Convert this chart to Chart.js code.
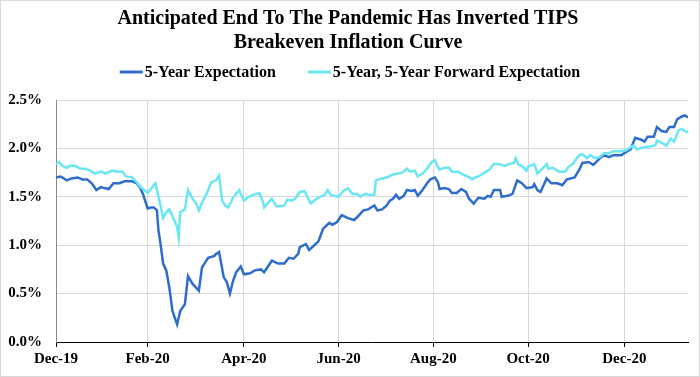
<!DOCTYPE html>
<html>
<head>
<meta charset="utf-8">
<script src="https://cdn.jsdelivr.net/npm/chart.js@4"></script>
<style>
  html, body { margin: 0; padding: 0; background: #fff; }
  #wrap { width: 700px; height: 377px; box-sizing: border-box; border: 1px solid #d9d9d9; }
  canvas { display: block; }
</style>
</head>
<body>
<div id="wrap"><canvas id="chart" width="698" height="375"></canvas></div>
<script>
// days counted from the start of the axis (early Dec 2019)
const tickDays = [0, 59, 121, 182, 243, 304, 366];
const tickLabels = ['Dec-19', 'Feb-20', 'Apr-20', 'Jun-20', 'Aug-20', 'Oct-20', 'Dec-20'];

const fiveYearDays = [0,3,7,10,14,17,20,23,26,29,31,34,37,41,44,49,52,54,56,59,
  61,63,65,66,67,69,71,73,75,78,80,83,85,88,92,94,96,98,102,103,
  105,108,110,112,114,116,119,121,125,128,132,134,139,143,147,150,153,156,157,161,
  163,167,169,172,176,178,181,184,188,192,194,198,201,205,207,210,213,215,217,219,
  221,224,226,229,231,233,236,239,241,244,246,247,250,253,255,258,261,264,266,269,
  272,276,278,280,282,286,287,291,294,297,300,303,307,308,310,312,316,319,323,326,
  329,334,337,339,343,346,348,351,353,356,359,364,367,370,373,377,379,381,385,387,
  390,393,395,398,400,403,405,407];
const fiveYear = [1.70,1.71,1.67,1.69,1.70,1.68,1.68,1.64,1.57,1.60,
  1.59,1.58,1.64,1.64,1.66,1.66,1.64,1.60,1.53,1.38,
  1.39,1.39,1.36,1.15,1.05,0.81,0.74,0.56,0.32,0.18,
  0.32,0.39,0.68,0.60,0.53,0.77,0.82,0.87,0.89,0.91,
  0.93,0.67,0.62,0.50,0.63,0.72,0.78,0.70,0.71,0.74,
  0.75,0.72,0.84,0.81,0.81,0.87,0.86,0.91,0.98,1.01,
  0.95,1.01,1.04,1.17,1.23,1.21,1.24,1.31,1.28,1.26,
  1.29,1.36,1.37,1.41,1.36,1.37,1.41,1.46,1.48,1.52,
  1.48,1.51,1.57,1.56,1.57,1.51,1.57,1.64,1.68,1.70,
  1.65,1.58,1.59,1.58,1.54,1.54,1.58,1.55,1.48,1.43,
  1.49,1.48,1.51,1.50,1.57,1.57,1.50,1.51,1.53,1.67,
  1.64,1.59,1.60,1.63,1.57,1.55,1.69,1.64,1.64,1.62,
  1.68,1.70,1.78,1.85,1.86,1.83,1.86,1.91,1.93,1.91,
  1.93,1.93,1.96,1.99,2.11,2.09,2.07,2.12,2.12,2.22,
  2.18,2.17,2.22,2.22,2.30,2.33,2.34,2.32];

const forwardDays = [0,2,4,7,9,12,16,19,22,25,29,32,36,40,43,45,49,52,55,56,
  59,61,64,67,69,71,73,75,78,79,80,83,85,88,90,92,94,97,100,103,
  105,107,109,111,114,116,118,121,124,127,131,133,134,139,142,147,149,152,154,157,
  160,164,167,170,173,175,177,182,185,188,191,194,196,199,203,205,206,210,213,217,
  220,223,226,228,231,233,236,239,242,244,245,247,250,253,255,259,262,265,268,270,
  272,276,279,282,285,289,292,295,296,298,300,303,304,308,310,312,316,317,320,324,
  328,330,333,334,337,339,342,344,347,350,353,356,359,364,367,370,372,374,378,382,
  386,387,390,393,396,398,401,403,406,407];
const forward = [1.84,1.86,1.82,1.80,1.82,1.82,1.79,1.79,1.77,1.74,
  1.76,1.74,1.77,1.76,1.76,1.71,1.70,1.65,1.59,1.58,
  1.54,1.58,1.64,1.43,1.28,1.34,1.37,1.30,1.19,1.08,
  1.34,1.37,1.57,1.48,1.44,1.36,1.44,1.53,1.65,1.67,
  1.72,1.46,1.41,1.39,1.49,1.53,1.57,1.46,1.50,1.52,
  1.54,1.46,1.39,1.48,1.40,1.41,1.47,1.46,1.48,1.55,
  1.56,1.43,1.47,1.50,1.52,1.57,1.52,1.50,1.56,1.59,
  1.53,1.53,1.50,1.53,1.52,1.52,1.67,1.69,1.70,1.73,
  1.74,1.75,1.79,1.76,1.77,1.71,1.74,1.79,1.86,1.88,
  1.84,1.78,1.80,1.80,1.76,1.76,1.73,1.71,1.68,1.70,
  1.71,1.75,1.78,1.84,1.84,1.82,1.84,1.85,1.90,1.83,
  1.82,1.77,1.81,1.84,1.74,1.77,1.84,1.79,1.80,1.76,
  1.76,1.81,1.84,1.87,1.93,1.94,1.90,1.93,1.90,1.91,
  1.95,1.95,1.97,1.97,1.98,2.01,2.03,1.99,2.01,2.02,
  2.03,2.08,2.06,2.03,2.10,2.07,2.19,2.20,2.17,2.18];

const serif = '"Liberation Serif", "DejaVu Serif", serif';

// legend drawn as short line + label, like the original
const lineLegend = {
  id: 'lineLegend',
  afterDraw(chart) {
    const ctx = chart.ctx;
    const y = 71;
    const lineLen = 23, gap = 2, itemGap = 32;
    ctx.save();
    ctx.font = 'bold 16px ' + serif;
    const items = chart.data.datasets.map(ds => ({
      text: ds.label, color: ds.borderColor, w: ctx.measureText(ds.label).width
    }));
    const total = items.reduce((s, it) => s + lineLen + gap + it.w, 0) + itemGap * (items.length - 1);
    let x = (chart.width - total) / 2;
    items.forEach(it => {
      ctx.strokeStyle = it.color;
      ctx.lineWidth = 3;
      ctx.beginPath();
      ctx.moveTo(x, y);
      ctx.lineTo(x + lineLen, y);
      ctx.stroke();
      x += lineLen + gap;
      ctx.fillStyle = '#000';
      ctx.textBaseline = 'middle';
      ctx.textAlign = 'left';
      ctx.fillText(it.text, x, y + 1);
      x += it.w + itemGap;
    });
    ctx.restore();
  }
};

new Chart(document.getElementById('chart'), {
  type: 'line',
  data: {
    datasets: [
      {
        label: '5-Year Expectation',
        data: fiveYearDays.map((d, i) => ({ x: d, y: fiveYear[i] })),
        borderColor: '#2e6dcb',
        borderWidth: 2.5,
        pointRadius: 0,
        tension: 0,
        order: 1
      },
      {
        label: '5-Year, 5-Year Forward Expectation',
        data: forwardDays.map((d, i) => ({ x: d, y: forward[i] })),
        borderColor: '#6ae6f4',
        borderWidth: 2.5,
        pointRadius: 0,
        tension: 0,
        order: 0
      }
    ]
  },
  options: {
    responsive: false,
    animation: false,
    layout: { padding: { left: 7, right: 11, top: 0, bottom: 0 } },
    plugins: {
      legend: { display: false },
      tooltip: { enabled: false },
      title: {
        display: true,
        text: ['Anticipated End To The Pandemic Has Inverted TIPS', 'Breakeven Inflation Curve'],
        color: '#000',
        font: { family: serif, size: 20, weight: 'bold', lineHeight: 1.2 },
        padding: { top: 6, bottom: 45 }
      }
    },
    scales: {
      x: {
        type: 'linear',
        min: 0,
        max: 407,
        afterBuildTicks: scale => { scale.ticks = tickDays.map(v => ({ value: v })); },
        afterFit: scale => { scale.height = 34; },
        ticks: {
          autoSkip: false,
          maxRotation: 0,
          padding: 3,
          color: '#000',
          font: { family: serif, size: 15, weight: 'bold' },
          callback: (v, i) => tickLabels[i]
        },
        grid: { color: '#d9d9d9', tickColor: '#000', tickLength: 5 },
        border: { color: '#000', width: 1 }
      },
      y: {
        min: 0,
        max: 2.5,
        afterFit: scale => { scale.width = 48; },
        ticks: {
          stepSize: 0.5,
          padding: 14,
          color: '#000',
          font: { family: serif, size: 15, weight: 'bold' },
          callback: v => v.toFixed(1) + '%'
        },
        grid: { color: '#d9d9d9', drawTicks: false },
        border: { color: '#888', width: 1 }
      }
    }
  },
  plugins: [lineLegend]
});
</script>
</body>
</html>
